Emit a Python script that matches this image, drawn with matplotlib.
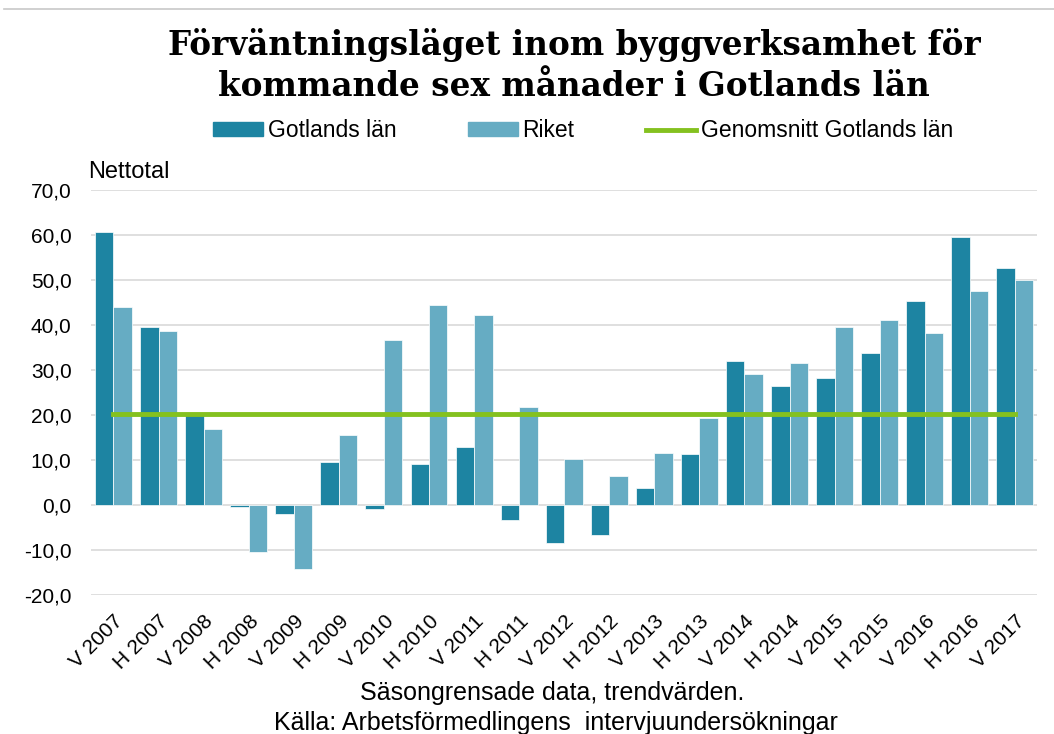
import numpy as np
import matplotlib.pyplot as plt
from matplotlib.lines import Line2D
from matplotlib.patches import Patch

# Data
perioder = ['V 2007', 'H 2007', 'V 2008', 'H 2008', 'V 2009', 'H 2009', 'V 2010',
            'H 2010', 'V 2011', 'H 2011', 'V 2012', 'H 2012', 'V 2013', 'H 2013',
            'V 2014', 'H 2014', 'V 2015', 'H 2015', 'V 2016', 'H 2016', 'V 2017']
gotland = [60.8, 39.6, 20.1, -0.4, -2.0, 9.5, -0.9, 9.2, 12.9, -3.3, -8.3,
           -6.7, 3.9, 11.4, 32.1, 26.4, 28.3, 33.8, 45.4, 59.5, 52.6]
riket = [44.0, 38.7, 17.0, -10.3, -14.1, 15.5, 36.8, 44.5, 42.3, 21.9, 10.3,
         6.5, 11.7, 19.4, 29.1, 31.6, 39.6, 41.2, 38.2, 47.6, 50.0]
genomsnitt = 20.3

c_got = '#1d84a2'
c_rik = '#66acc3'
c_avg = '#84c11f'

plt.rcParams['font.family'] = ['Liberation Sans', 'DejaVu Sans']

fig = plt.figure(figsize=(10.54, 7.34), dpi=100)
ax = fig.add_axes([0.0863, 0.189, 0.898, 0.552])

x = np.arange(len(perioder))
w = 0.41
ax.bar(x - w / 2, gotland, w, color=c_got, edgecolor='white', linewidth=0.5, zorder=2)
ax.bar(x + w / 2, riket, w, color=c_rik, edgecolor='white', linewidth=0.5, zorder=2)
ax.plot(x, [genomsnitt] * len(x), color=c_avg, linewidth=3.5, zorder=3)

ax.set_xlim(-0.5, len(x) - 0.5)
ax.set_ylim(-20, 70)
yt = np.arange(-20, 71, 10)
ax.set_yticks(yt)
ax.set_yticklabels([f'{v:.1f}'.replace('.', ',') for v in yt], fontsize=15)
ax.set_xticks(x)
ax.set_xticklabels(perioder, rotation=45, ha='right', va='top', rotation_mode='anchor', fontsize=15)
ax.tick_params(axis='y', length=0, pad=14)
ax.tick_params(axis='x', length=0, pad=12)
ax.grid(axis='y', color='#d9d9d9', linewidth=1.2, zorder=0)
ax.set_axisbelow(True)
for s in ax.spines.values():
    s.set_visible(False)

# Top rule line
fig.add_artist(Line2D([0.004, 1.0], [0.988, 0.988], color='#c8c8c8', linewidth=1.2))

fig.text(0.5446, 0.925, 'Förväntningsläget inom byggverksamhet för', ha='center', va='baseline',
         fontsize=23.5, fontweight='bold', family='DejaVu Serif')
fig.text(0.5446, 0.869, 'kommande sex månader i Gotlands län', ha='center', va='baseline',
         fontsize=23.5, fontweight='bold', family='DejaVu Serif')

handles = [Patch(color=c_got), Patch(color=c_rik), Line2D([0], [0], color=c_avg, linewidth=3.5)]
fig.legend(handles, ['Gotlands län', 'Riket', 'Genomsnitt Gotlands län'],
           loc='center', bbox_to_anchor=(0.553, 0.822), ncol=3, frameon=False,
           fontsize=16.5, handlelength=2.2, handleheight=0.5, handletextpad=0.2,
           columnspacing=3.1)

fig.text(0.0835, 0.7575, 'Nettotal', fontsize=17, va='baseline')
fig.text(0.524, 0.046, 'Säsongrensade data, trendvärden.', ha='center', va='baseline', fontsize=18)
fig.text(0.527, 0.006, 'Källa: Arbetsförmedlingens  intervjuundersökningar', ha='center',
         va='baseline', fontsize=18)

fig.savefig('out.png', dpi=100)
